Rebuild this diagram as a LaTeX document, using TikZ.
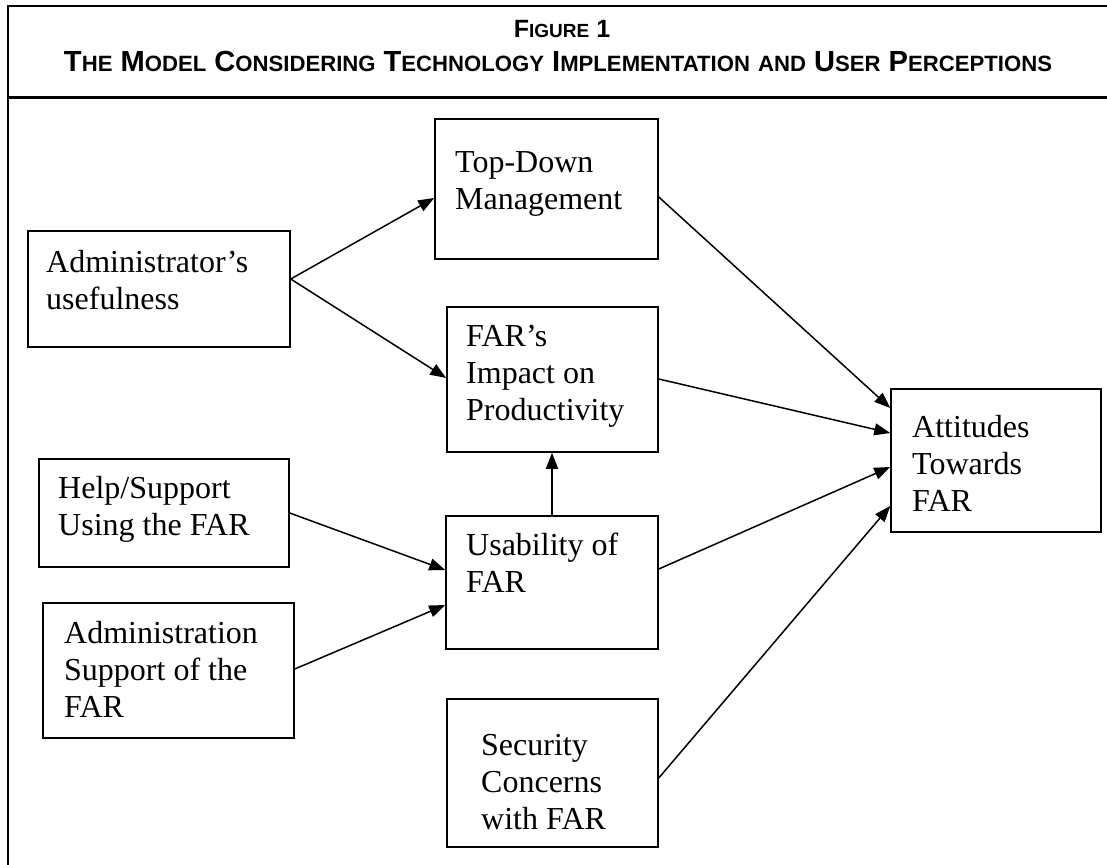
\documentclass[tikz,border=0pt]{standalone}
\usepackage{fontspec}
\setmainfont{Liberation Serif}
\newfontfamily\headfont{Liberation Sans}
\usetikzlibrary{arrows.meta}

% faked small capitals for the heading
\newcommand\smc[1]{{\fontsize{19}{22}\selectfont #1}}

\begin{document}
\begin{tikzpicture}[x=1pt,y=-1pt,
  box/.style={draw, line width=1.5pt, inner sep=0pt},
  lbl/.style={anchor=north west, inner sep=0pt, align=left, font=\fontsize{32}{37}\selectfont},
  arr/.style={line width=1.5pt, -{Triangle[length=16pt,width=12pt]}},
  head/.style={anchor=base, inner sep=0pt, font=\headfont\bfseries\fontsize{25}{30}\selectfont}]
\useasboundingbox (0,0) rectangle (1107,864);

% outer frame and heading rule
\draw[line width=2.2pt] (8,870) -- (8,6) -- (1112,6);
\draw[line width=3pt] (7,98) -- (1112,98);

% heading
\node[head] (title) at (562,38) {F\smc{IGURE} 1};
\node[head] (subtitle) at (558,72) {\resizebox{988pt}{!}{T\smc{HE} M\smc{ODEL} C\smc{ONSIDERING} T\smc{ECHNOLOGY} I\smc{MPLEMENTATION} \smc{AND} U\smc{SER} P\smc{ERCEPTIONS}}};

% boxes
\node[box, minimum width=262pt, minimum height=116pt] (adm)  at (159,289)   {};
\node[box, minimum width=223pt, minimum height=140pt] (td)   at (546.5,189) {};
\node[box, minimum width=211pt, minimum height=145pt] (far)  at (552.5,379.5) {};
\node[box, minimum width=250pt, minimum height=108pt] (help) at (164,513)   {};
\node[box, minimum width=251pt, minimum height=135pt] (ads)  at (168.5,670.5) {};
\node[box, minimum width=212pt, minimum height=133pt] (usa)  at (552,582.5) {};
\node[box, minimum width=211pt, minimum height=148pt] (sec)  at (552.5,773) {};
\node[box, minimum width=210pt, minimum height=143pt] (att)  at (996,460.5) {};

% box texts
\node[lbl] (adm-t)  at (46,246.1)  {\strut Administrator’s\\usefulness};
\node[lbl] (td-t)   at (455,146.1) {\strut Top-Down\\Management};
\node[lbl] (far-t)  at (466,320.1) {\strut FAR’s\\Impact on\\Productivity};
\node[lbl] (help-t) at (58,472.1)  {\strut Help/Support\\Using the FAR};
\node[lbl] (ads-t)  at (64,617.1)  {\strut Administration\\Support of the\\FAR};
\node[lbl] (usa-t)  at (466,529.1) {\strut Usability of\\FAR};
\node[lbl] (sec-t)  at (481,729.1) {\strut Security\\Concerns\\with FAR};
\node[lbl] (att-t)  at (912,411.1) {\strut Attitudes\\Towards\\FAR};

% connectors
\draw[arr] (adm.east |- 0,279) -- (td.west |- 0,198);
\draw[arr] (adm.east |- 0,279) -- (far.west |- 0,378);
\draw[arr] (td.east |- 0,197) -- (att.west |- 0,408);
\draw[arr] (far.east |- 0,379) -- (att.west |- 0,433);
\draw[arr] (help.east |- 0,513) -- (usa.west |- 0,570);
\draw[arr] (ads.east |- 0,669) -- (usa.west |- 0,605);
\draw[arr] (usa.north) -- (usa.north |- far.south);
\draw[arr] (usa.east |- 0,569) -- (att.west |- 0,467);
\draw[arr] (sec.east |- 0,778) -- (att.west |- 0,506);
\end{tikzpicture}
\end{document}
